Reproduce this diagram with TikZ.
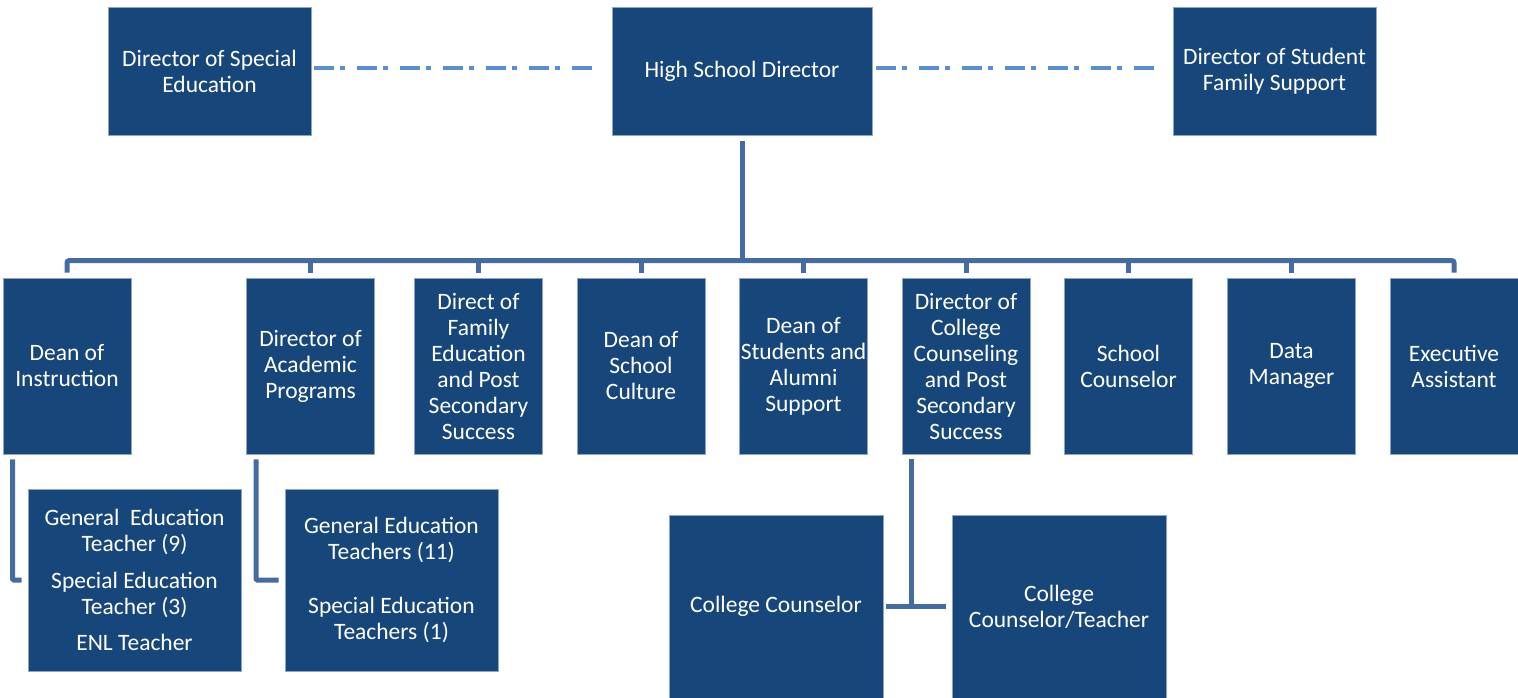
\documentclass[tikz,border=0pt]{standalone}
\usepackage{fontspec}
\setmainfont{Carlito}
\definecolor{boxblue}{RGB}{23,71,122}
\definecolor{boxedge}{RGB}{140,165,200}
\definecolor{connblue}{RGB}{68,108,162}
\definecolor{dashblue}{RGB}{88,142,212}
\begin{document}
\begin{tikzpicture}[x=1pt,y=-1pt,
  orgbox/.style={fill=boxblue, draw=boxedge, line width=0.6pt, text=white, align=center,
    inner sep=0pt, font=\fontsize{23.5}{26}\selectfont},
  topbox/.style={orgbox, minimum width=203pt, minimum height=128pt},
  rowbox/.style={orgbox, minimum width=128pt, minimum height=176pt},
  lowbox/.style={orgbox, minimum width=213pt, minimum height=182pt},
  conn/.style={draw=connblue, line width=5pt},
  dashdot/.style={draw=dashblue, line width=4pt, dash pattern=on 20pt off 6pt on 5pt off 12pt}]
\useasboundingbox (0,0) rectangle (1518,698);
% top row
\node[topbox] (dse) at (209.5,71) {Director of Special\\Education};
\node[topbox, minimum width=260pt] (hsd) at (742,71) {High School Director};
\node[topbox] (dsfs) at (1274.5,71) {Director of Student\\Family Support};
% second row
\node[rowbox] (r1) at (67,366) {Dean of\\Instruction};
\node[rowbox] (r2) at (310.5,366) {Director of\\Academic\\Programs};
\node[rowbox] (r3) at (478.5,366) {Direct of\\Family\\Education\\and Post\\Secondary\\Success};
\node[rowbox] (r4) at (641,366) {Dean of\\School\\Culture};
\node[rowbox] (r5) at (803.5,366) {Dean of\\Students and\\Alumni\\Support};
\node[rowbox] (r6) at (966,366) {Director of\\College\\Counseling\\and Post\\Secondary\\Success};
\node[rowbox] (r7) at (1128.5,366) {School\\Counselor};
\node[rowbox] (r8) at (1291.5,366) {Data\\Manager};
\node[rowbox] (r9) at (1454,366) {Executive\\Assistant};
% bottom boxes
\node[lowbox] (b1) at (134.5,580) {General~ Education\\Teacher (9)\\[11pt]Special Education\\Teacher (3)\\[10pt]ENL Teacher};
\node[lowbox] (b2) at (391.5,580) {General Education\\Teachers (11)\\[28pt]Special Education\\Teachers (1)};
\node[lowbox, minimum width=214pt, minimum height=183pt] (cc) at (776,606.5) {College Counselor};
\node[lowbox, minimum width=214pt, minimum height=183pt] (cct) at (1059,606.5) {College\\Counselor/Teacher};
% dash-dot links
\draw[dashdot] ([xshift=3pt,yshift=3pt]dse.east) -- ([xshift=-17pt,yshift=3pt]hsd.west);
\draw[dashdot] ([xshift=4pt,yshift=3pt]hsd.east) -- ([xshift=-16pt,yshift=3pt]dsfs.west);
% tree
\coordinate (bar) at ([yshift=17pt]r1.north);
\draw[conn, rounded corners=2pt] ([yshift=5pt]r1.north) |- (r9.north |- bar) -- ([yshift=5pt]r9.north);
\draw[conn] ([yshift=-6pt]hsd.south) -- (hsd.south |- bar);
\foreach \r in {r2,r3,r4,r5,r6,r7,r8}{
  \draw[conn] ([yshift=5pt]\r.north) -- (\r.north |- bar);
}
% lower connectors
\draw[conn, rounded corners=1pt] ([xshift=10pt,yshift=-5pt]r1.south west) |- ([xshift=-6pt]b1.west);
\draw[conn, rounded corners=1pt] ([xshift=10pt,yshift=-5pt]r2.south west) |- ([xshift=-6pt]b2.west);
\coordinate (ccjoin) at ([xshift=10pt]r6.south west |- cc.east);
\draw[conn] ([xshift=10pt,yshift=-5pt]r6.south west) -- ([yshift=2.5pt]ccjoin);
\draw[conn] ([xshift=3pt]cc.east) -- ([xshift=-6pt]cct.west);
\end{tikzpicture}
\end{document}
